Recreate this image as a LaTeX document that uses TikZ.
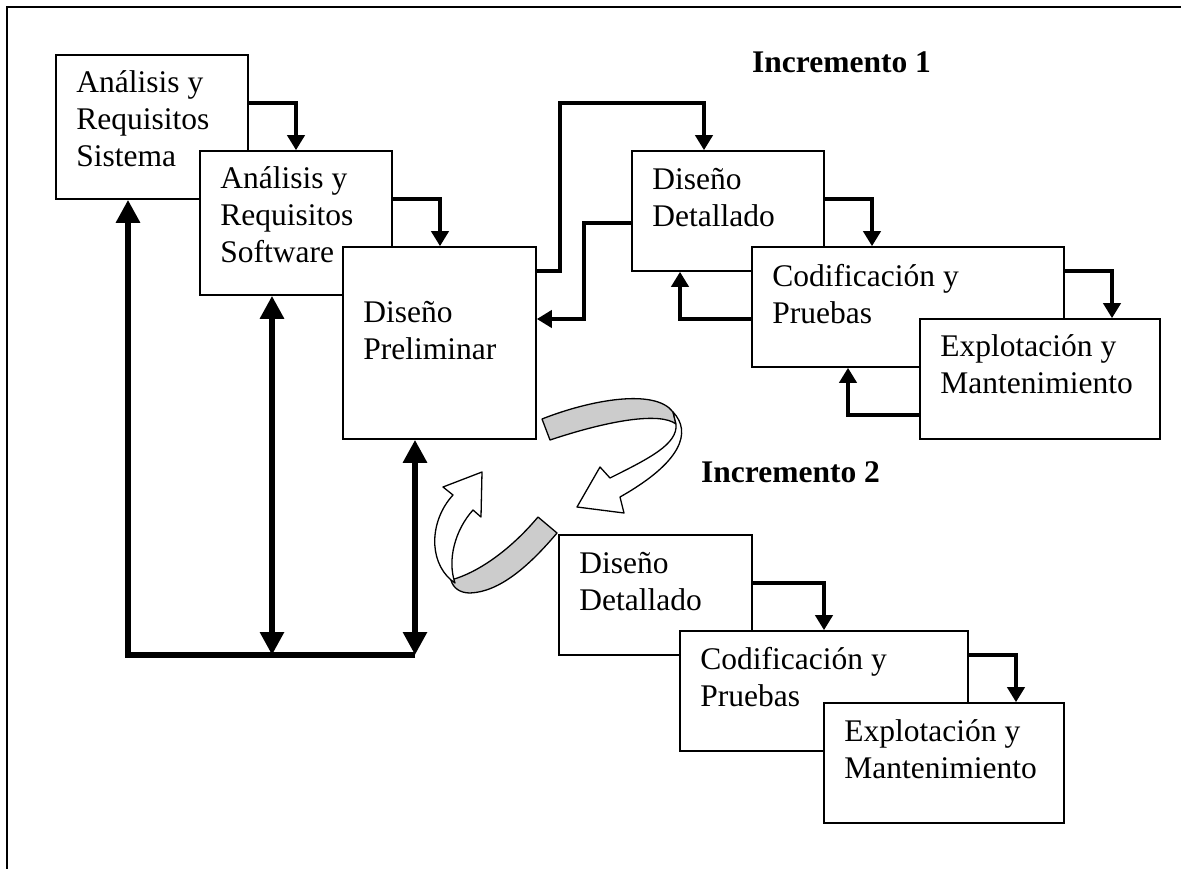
\documentclass[tikz,border=0pt]{standalone}
\usepackage{fontspec}
\setmainfont{Liberation Serif}
\usetikzlibrary{arrows.meta,fit,calc}

\begin{document}
\begin{tikzpicture}[x=1pt,y=-1pt,
  box/.style={draw, line width=1.6pt, fill=white, inner sep=0pt},
  txt/.style={anchor=base west, inner sep=0pt, font=\fontsize{31.5pt}{37pt}\selectfont},
  ttl/.style={anchor=base west, inner sep=0pt, font=\fontsize{31.5pt}{37pt}\selectfont\bfseries},
  smalltip/.tip={Triangle[width=17pt,length=15pt]},
  bigtip/.tip={Triangle[width=23pt,length=23pt]},
  flow/.style={line width=4.5pt, -smalltip},
  big/.style={line width=6.5pt},
  ribbon/.style={draw, line width=1.3pt, line join=round},
]
\useasboundingbox (0,0) rectangle (1181,869);

% page frame (top and left rules only)
\draw[line width=2pt] (7,869) -- (7,7) -- (1181,7);

% ---- Incremento 1 -------------------------------------------------------
\node[box, fit={(56,55) (248,199)}] (A) {};
\node[txt] (A1) at ($(A.north west)+(21,38)$) {Análisis y};
\node[txt] (A2) at ($(A.north west)+(21,75)$) {Requisitos};
\node[txt] (A3) at ($(A.north west)+(21,112)$) {Sistema};

\node[box, fit={(200,151) (392,295)}] (B) {};
\node[txt] (B1) at ($(B.north west)+(21,38)$) {Análisis y};
\node[txt] (B2) at ($(B.north west)+(21,75)$) {Requisitos};
\node[txt] (B3) at ($(B.north west)+(21,112)$) {Software};

\node[box, fit={(343,247) (536,439)}] (C) {};
\node[txt] (C1) at ($(C.north west)+(21,76)$) {Diseño};
\node[txt] (C2) at ($(C.north west)+(21,113)$) {Preliminar};

\node[box, fit={(632,151) (824,271)}] (D) {};
\node[txt] (D1) at ($(D.north west)+(21,39)$) {Diseño};
\node[txt] (D2) at ($(D.north west)+(21,76)$) {Detallado};

\node[box, fit={(752,247) (1064,367)}] (E) {};
\node[txt] (E1) at ($(E.north west)+(21,40)$) {Codificación y};
\node[txt] (E2) at ($(E.north west)+(21,77)$) {Pruebas};

\node[box, fit={(920,319) (1160,439)}] (F) {};
\node[txt] (F1) at ($(F.north west)+(21,38)$) {Explotación y};
\node[txt] (F2) at ($(F.north west)+(21,75)$) {Mantenimiento};

\node[ttl] (inc1) at (752,73) {Incremento 1};

% forward and feedback flows
\draw[flow] (A.east |- 0,103) -| (B.north -| 296,0);
\draw[flow] (B.east |- 0,199) -| (C.north -| 440,0);
\draw[flow] (C.east |- 0,271) -- (560,271) |- (704,103) -- (D.north -| 704,0);
\draw[flow] (D.west |- 0,223) -| (584,319) -- (C.east |- 0,319);
\draw[flow] (D.east |- 0,199) -| (E.north -| 872,0);
\draw[flow] (E.west |- 0,319) -| (D.south -| 680,0);
\draw[flow] (E.east |- 0,271) -| (F.north -| 1112,0);
\draw[flow] (F.west |- 0,415) -| (E.south -| 848,0);

% return loop to the analysis phases
\coordinate (LL) at (128,655);
\coordinate (LR) at (415,655);
\draw[big, -bigtip] (LR) -- (LL) -- (LL |- A.south);
\draw[big, bigtip-bigtip] (B.south -| 272,0) -- (272,655);
\draw[big, bigtip-bigtip] (C.south -| 415,0) -- (LR);

% ---- iteration ribbons ---------------------------------------------------
% upper ribbon: grey band then white arrow
\path[ribbon, fill=black!20] (542,419) .. controls (590,400) and (655,388) .. (673,412)
  -- (676,424) .. controls (660,412) and (610,420) .. (550,440) -- cycle;
\path[ribbon, fill=white] (673,412) .. controls (692,432) and (682,462) .. (620,497)
  -- (624,513) -- (577,507) -- (600,467) -- (610,478)
  .. controls (650,458) and (678,444) .. (676,424) -- cycle;

% lower ribbon: grey band then white arrow
\path[ribbon, fill=black!20] (538,517) -- (557,533) .. controls (530,565) and (500,592) .. (470,593)
  .. controls (460,593) and (453,588) .. (451,580)
  .. controls (480,572) and (512,548) .. (538,517) -- cycle;
\path[ribbon, fill=white] (451,580) .. controls (428,560) and (430,520) .. (453,495)
  -- (443,487) -- (482,472) -- (481,517) -- (473,510)
  .. controls (455,530) and (447,560) .. (455,583) -- cycle;

\node[ttl] (inc2) at (701,482) {Incremento 2};

% ---- Incremento 2 -------------------------------------------------------
\node[box, fit={(559,535) (752,655)}] (G) {};
\node[txt] (G1) at ($(G.north west)+(21,39)$) {Diseño};
\node[txt] (G2) at ($(G.north west)+(21,76)$) {Detallado};

\node[box, fit={(680,631) (968,751)}] (H) {};
\node[txt] (H1) at ($(H.north west)+(21,39)$) {Codificación y};
\node[txt] (H2) at ($(H.north west)+(21,76)$) {Pruebas};

\node[box, fit={(824,703) (1064,823)}] (I) {};
\node[txt] (I1) at ($(I.north west)+(21,39)$) {Explotación y};
\node[txt] (I2) at ($(I.north west)+(21,76)$) {Mantenimiento};

\draw[flow] (G.east |- 0,583) -| (H.north -| 824,0);
\draw[flow] (H.east |- 0,655) -| (I.north -| 1016,0);

\end{tikzpicture}
\end{document}
